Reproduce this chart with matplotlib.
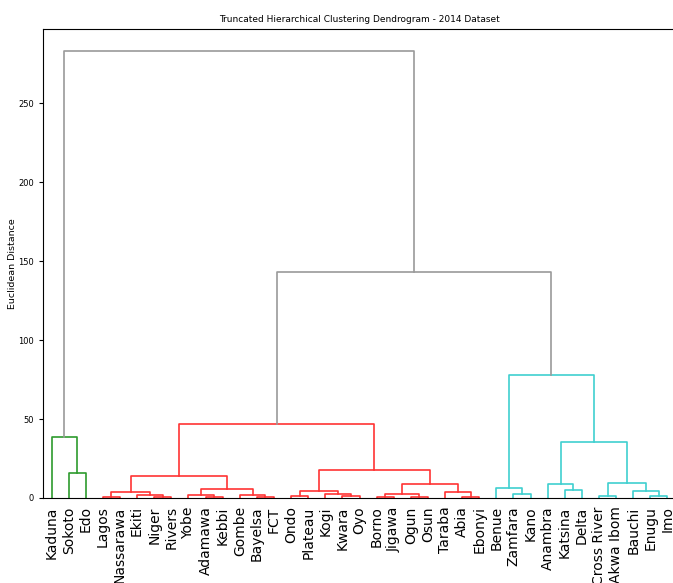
import matplotlib
matplotlib.use("Agg")
import matplotlib.pyplot as plt
from matplotlib import font_manager

# leaves in the order they appear on the x axis
states = ["Kaduna", "Sokoto", "Edo", "Lagos", "Nassarawa", "Ekiti", "Niger",
          "Rivers", "Yobe", "Adamawa", "Kebbi", "Gombe", "Bayelsa", "FCT",
          "Ondo", "Plateau", "Kogi", "Kwara", "Oyo", "Borno", "Jigawa", "Ogun",
          "Osun", "Taraba", "Abia", "Ebonyi", "Benue", "Zamfara", "Kano",
          "Anambra", "Katsina", "Delta", "Cross River", "Akwa Ibom", "Bauchi",
          "Enugu", "Imo"]

# linkage: merge k creates node len(states)+k
merge_left = [6, 5, 3, 39, 9, 8, 12, 11, 42, 40, 14, 17, 16, 47, 19, 21, 51, 24,
              23, 53, 50, 46, 1, 0, 27, 26, 30, 29, 32, 35, 34, 65, 64, 62, 58, 60]
merge_right = [7, 37, 4, 38, 10, 41, 13, 43, 44, 45, 15, 18, 48, 49, 20, 22, 52, 25,
               54, 55, 56, 57, 2, 59, 28, 61, 31, 63, 33, 36, 66, 67, 68, 69, 70, 71]
merge_height = [0.8, 2.0, 0.8, 4.0, 0.8, 2.0, 0.8, 2.2, 5.7, 14.2, 1.2, 1.0, 2.3,
                4.7, 0.8, 0.8, 2.5, 0.8, 4.0, 8.9, 17.8, 47.0, 15.9, 38.7, 2.3,
                6.1, 5.1, 8.9, 1.5, 1.5, 4.4, 9.7, 35.5, 78.0, 143.4, 283.0]

color_threshold = 100
palette = ["#2e9b2e", "#ff3333", "#3fcfcf"]
above_color = "#9a9a9a"

names = [f.name for f in font_manager.fontManager.ttflist]
small_font = "Liberation Sans Narrow" if "Liberation Sans Narrow" in names else "DejaVu Sans"

n = len(states)
xpos = {i: 5 + 10 * i for i in range(n)}
hpos = {i: 0.0 for i in range(n)}
children = {}
for k in range(len(merge_height)):
    node = n + k
    a, b = merge_left[k], merge_right[k]
    children[node] = (a, b)
    xpos[node] = (xpos[a] + xpos[b]) / 2
    hpos[node] = merge_height[k]

# colour each cluster below the threshold
node_color = {}
next_color = [0]


def paint(node, col):
    if node < n:
        return
    if col is None and hpos[node] < color_threshold:
        col = palette[next_color[0] % len(palette)]
        next_color[0] += 1
    node_color[node] = col if col else above_color
    for c in children[node]:
        paint(c, col)


paint(n + len(merge_height) - 1, None)

fig = plt.figure(figsize=(6.73, 5.83), dpi=100)
ax = fig.add_axes([0.0639, 0.1458, 0.9406, 0.8044])

for k in range(len(merge_height)):
    node = n + k
    a, b = children[node]
    ax.plot([xpos[a], xpos[a], xpos[b], xpos[b]],
            [hpos[a], hpos[node], hpos[node], hpos[b]],
            color=node_color[node], lw=1.2)

ax.set_xlim(0, 10 * n)
ax.set_ylim(0, max(merge_height) * 1.05)
ax.set_xticks([xpos[i] for i in range(n)])
ax.set_xticklabels(states, rotation=90, fontsize=10)
ax.tick_params(axis="x", length=0, pad=6)
ax.set_yticks([0, 50, 100, 150, 200, 250])
ax.tick_params(axis="y", labelsize=6, length=3, width=0.8)
for lab in ax.get_yticklabels():
    lab.set_family(small_font)
for s in ax.spines.values():
    s.set_linewidth(0.8)

ax.set_title("Truncated Hierarchical Clustering Dendrogram - 2014 Dataset",
             fontsize=6.5, family=small_font, pad=5)
ax.set_ylabel("Euclidean Distance", fontsize=6.8, family=small_font, labelpad=1)

fig.savefig("out.png", dpi=100)
